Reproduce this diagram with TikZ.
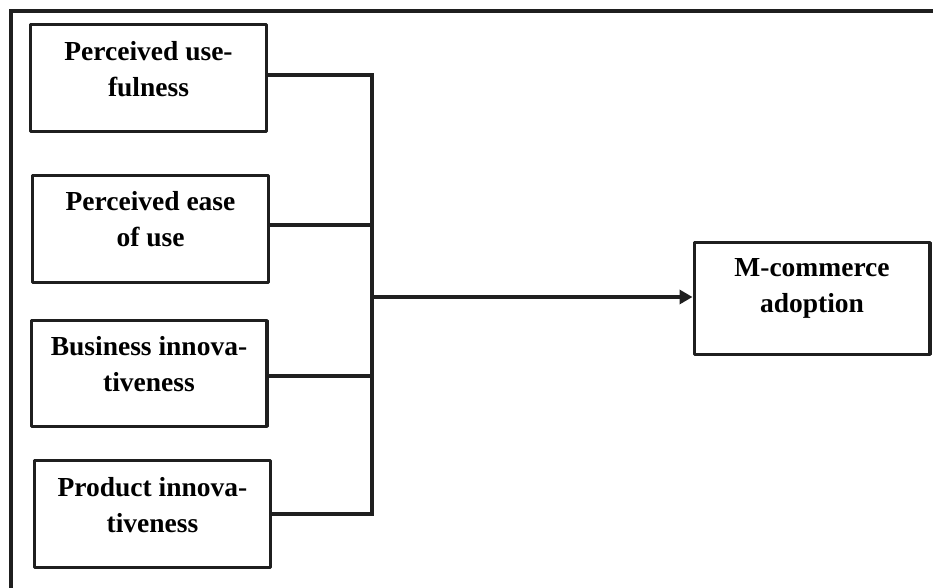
\documentclass[tikz,border=0pt]{standalone}
\usepackage{fontspec}
\setmainfont{Liberation Serif}
\usetikzlibrary{arrows.meta}

% boxed label: fixed-height parbox, lines set from the top
\newcommand{\celltext}[3]{\parbox[c][#1][t]{230pt}{\centering\rule{0pt}{#2}#3}}

\begin{document}
\begin{tikzpicture}[x=1pt,y=-1pt,
  factor/.style={draw=black!88, line width=3.4pt, line join=round, inner sep=0pt,
    minimum width=235.6pt, font=\bfseries\fontsize{27.5}{36}\selectfont},
  link/.style={draw=black!88, line width=3.4pt, line join=miter},
  frameline/.style={draw=black!88, line width=3.4pt, line join=miter}]

  \useasboundingbox (0,0) rectangle (933,588);

  % outer frame (open to the right and bottom)
  \draw[frameline] (945,11) -- (11,11) -- (11,600);

  % independent variables
  \node[factor] (pu) at (148.5,78)  {\celltext{106.6pt}{35.5pt}{Perceived use-\\fulness}};
  \node[factor] (pe) at (150.5,229) {\celltext{106.6pt}{35pt}{Perceived ease\\of use}};
  \node[factor] (bi) at (149,373.5) {\celltext{105.6pt}{35pt}{Business innova-\\tiveness}};
  \node[factor] (pi) at (152.5,514) {\celltext{106.6pt}{36pt}{Product innova-\\tiveness}};

  % dependent variable
  \node[factor] (mc) at (812,298.5) {\celltext{111.6pt}{34pt}{M-commerce\\adoption}};

  % junction points on the collecting bus
  \coordinate (j1) at (372,75);
  \coordinate (j2) at (372,225);
  \coordinate (jm) at (372,297);
  \coordinate (j3) at (372,376);
  \coordinate (j4) at (372,514);

  \draw[link] (pu.east |- j1) -- (j1) -- (j4) -- (pi.east |- j4);
  \draw[link] (pe.east |- j2) -- (j2);
  \draw[link] (bi.east |- j3) -- (j3);
  \draw[link, -{Triangle[length=13pt,width=14pt]}] (jm) -- (mc.west |- jm);
\end{tikzpicture}
\end{document}
